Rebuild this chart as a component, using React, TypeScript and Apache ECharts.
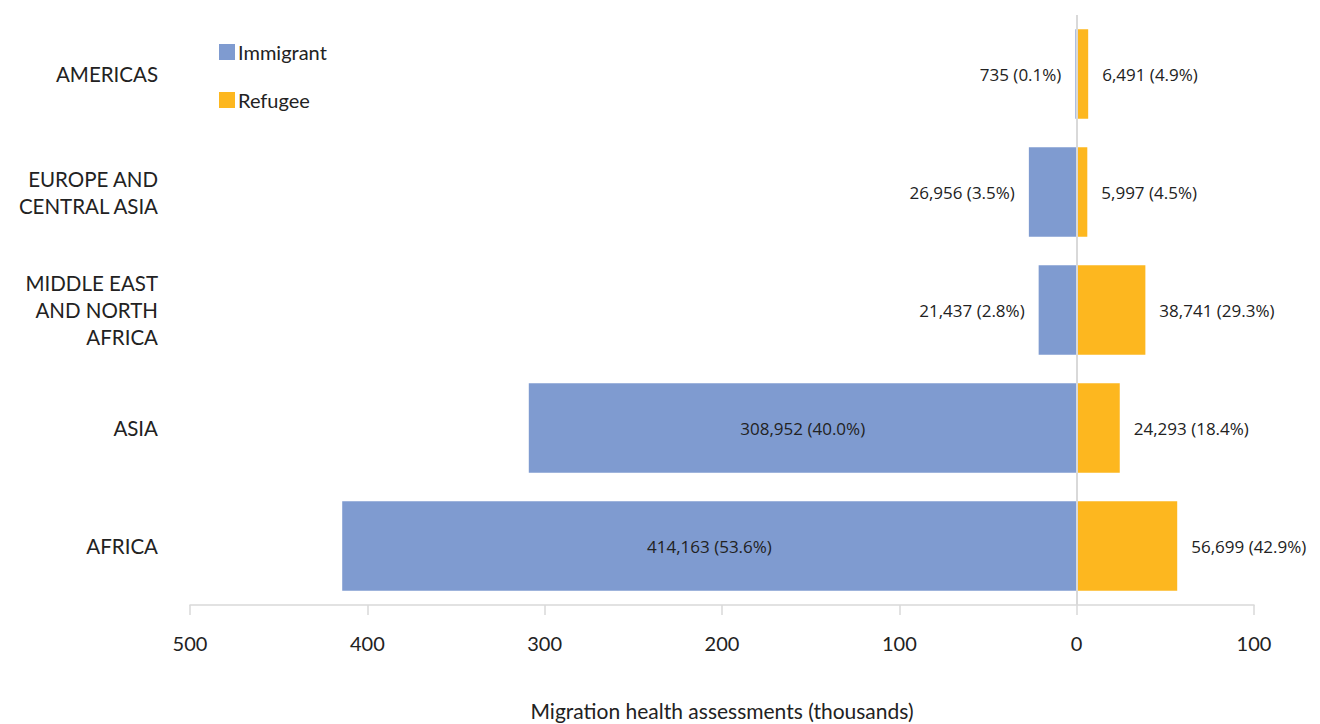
import React, { useEffect, useRef } from "react";
import * as echarts from "echarts";

const regions = [
  "AMERICAS",
  "EUROPE AND\nCENTRAL ASIA",
  "MIDDLE EAST\nAND NORTH\nAFRICA",
  "ASIA",
  "AFRICA",
];
const immigrantCounts = [735, 26956, 21437, 308952, 414163];
const immigrantShares = ["0.1%", "3.5%", "2.8%", "40.0%", "53.6%"];
const refugeeCounts = [6491, 5997, 38741, 24293, 56699];
const refugeeShares = ["4.9%", "4.5%", "29.3%", "18.4%", "42.9%"];
// Immigrant labels sit inside the bar only when the bar is long enough
const immigrantLabelInside = [false, false, false, true, true];

const axisMin = -500;
const axisMax = 100;
const axisStep = 100;

const fmt = (n: number) => n.toLocaleString("en-US");

export default function App() {
  const ref = useRef<HTMLDivElement>(null);

  useEffect(() => {
    document.body.style.margin = "0";
    if (!ref.current) return;
    const chart = echarts.init(ref.current, undefined, { renderer: "svg" });

    const labelFont = "'Open Sans', sans-serif";
    const axisFont = "Lato, sans-serif";

    chart.setOption({
      animation: false,
      backgroundColor: "#ffffff",
      grid: {
        left: 190,
        right: 66,
        top: 15,
        bottom: 119,
        containLabel: false,
        outerBoundsMode: "none",
      },
      legend: {
        orient: "vertical",
        left: 214,
        top: 37,
        itemWidth: 16,
        itemHeight: 16,
        itemGap: 28,
        icon: "rect",
        textStyle: { fontFamily: axisFont, fontSize: 20, color: "#222", padding: [0, 0, 0, -2] },
        data: ["Immigrant", "Refugee"],
      },
      xAxis: {
        type: "value",
        min: axisMin,
        max: axisMax,
        interval: axisStep,
        splitLine: { show: false },
        axisLine: { show: true, lineStyle: { color: "#d9d9d9", width: 1.5 } },
        axisTick: { show: true, length: 10, lineStyle: { color: "#d9d9d9", width: 1.5 } },
        axisLabel: {
          margin: 28,
          fontFamily: axisFont,
          fontSize: 20,
          color: "#222",
          formatter: (v: number) => String(Math.abs(v)),
        },
        name: "Migration health assessments (thousands)",
        nameLocation: "middle",
        nameGap: 95,
        nameTextStyle: { fontFamily: axisFont, fontSize: 21, color: "#222" },
      },
      yAxis: {
        type: "category",
        inverse: true,
        data: regions,
        axisLine: { show: false },
        axisTick: { show: false },
        axisLabel: {
          margin: 32,
          fontFamily: axisFont,
          fontSize: 20.5,
          lineHeight: 27,
          color: "#222",
          align: "right",
        },
      },
      series: [
        {
          name: "Immigrant",
          type: "bar",
          stack: "total",
          barCategoryGap: "24%",
          itemStyle: { color: "#7f9bd0" },
          data: immigrantCounts.map((c, i) => ({
            value: -c / 1000,
            label: {
              show: true,
              position: immigrantLabelInside[i] ? "inside" : "left",
              distance: 14,
              formatter: `${fmt(c)} (${immigrantShares[i]})`,
            },
          })),
          label: { fontFamily: labelFont, fontSize: 17, color: "#222" },
          markLine: {
            silent: true,
            symbol: "none",
            label: { show: false },
            lineStyle: { color: "#d9d9d9", width: 2, type: "solid" },
            data: [{ xAxis: 0 }],
          },
        },
        {
          name: "Refugee",
          type: "bar",
          stack: "total",
          barCategoryGap: "24%",
          itemStyle: { color: "#fdb71f" },
          data: refugeeCounts.map((c) => c / 1000),
          label: {
            show: true,
            position: "right",
            distance: 14,
            fontFamily: labelFont,
            fontSize: 17,
            color: "#222",
            formatter: (p: any) => `${fmt(refugeeCounts[p.dataIndex])} (${refugeeShares[p.dataIndex]})`,
          },
        },
      ],
    });

    return () => chart.dispose();
  }, []);

  return <div ref={ref} style={{ width: 1320, height: 724 }} />;
}
